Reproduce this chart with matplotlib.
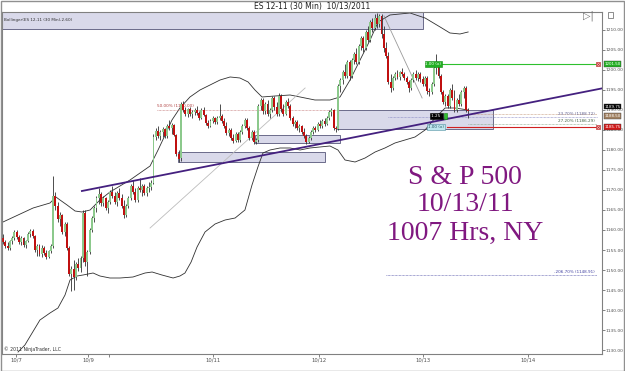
import numpy as np
import matplotlib.pyplot as plt
from matplotlib.patches import Rectangle
from matplotlib.transforms import blended_transform_factory

# 30 min OHLC bars, ES 12-11
opens = [1158, 1157, 1156, 1155.5, 1157.25, 1158, 1159.5, 1158.25, 1157, 1158,
         1156.25, 1157.25, 1159, 1159.75, 1158.5, 1155, 1156, 1154, 1155.5, 1154.25,
         1153.25, 1154.75, 1156, 1168.5, 1166, 1162.75, 1163.75, 1159.5, 1161.5, 1155.5,
         1149, 1150.25, 1148.25, 1151.5, 1150.5, 1153, 1164.25, 1152, 1154.5, 1160,
         1163, 1165.5, 1168, 1169, 1166.75, 1168, 1165.5, 1167, 1169.5, 1168.5,
         1167, 1169.25, 1168, 1166, 1163.75, 1166, 1168, 1171, 1169.5, 1167.5,
         1170.5, 1170, 1171, 1169.25, 1170.5, 1170.75, 1171.75, 1183.25, 1184.75, 1183.5,
         1184.5, 1185.25, 1183.5, 1186, 1185.5, 1186.25, 1183.75, 1179, 1178, 1191.5,
         1190, 1189, 1190.25, 1189, 1189.5, 1190, 1189.25, 1188, 1190, 1188.75,
         1186.75, 1186, 1187.25, 1188, 1187, 1188, 1188.5, 1187.25, 1186, 1184.25,
         1185, 1183, 1182.25, 1184, 1182.5, 1184.5, 1186, 1187.5, 1185.5, 1183,
         1184.5, 1182, 1182.5, 1191, 1192.5, 1189.75, 1191.5, 1189, 1190, 1193,
         1190.75, 1189, 1193.5, 1190.25, 1189, 1192, 1191, 1188, 1186.5, 1187,
         1185.5, 1186, 1184.5, 1183.5, 1182, 1183, 1184.5, 1185.5, 1185, 1186.5,
         1186, 1187.25, 1186.5, 1188, 1189.5, 1190, 1185.5, 1185.25, 1196, 1197.5,
         1199.5, 1198.5, 1202, 1198.5, 1202.5, 1204, 1202, 1206, 1208, 1205.5,
         1209.5, 1207.5, 1212, 1210.5, 1213, 1211.5, 1213.5, 1209, 1205.5, 1203.5,
         1197, 1195.5, 1198, 1199, 1198.25, 1199.5, 1199, 1198, 1197, 1195.5,
         1197.5, 1199, 1198, 1199, 1197.75, 1196.5, 1198, 1194.75, 1194.5, 1196.5,
         1200.5, 1201, 1198.5, 1194.5, 1192, 1193.5, 1191, 1195, 1193, 1190,
         1192.5, 1191.5, 1194.5, 1195.5, 1190]
highs = [1159, 1157.5, 1157, 1157.5, 1158.5, 1160, 1160, 1158.75, 1158.5, 1158.25,
         1157.5, 1159.5, 1160.25, 1160.25, 1158.75, 1156.5, 1156.5, 1156.25, 1156, 1155,
         1155, 1156.5, 1173.5, 1169.5, 1167, 1164.5, 1164, 1162, 1162, 1156,
         1151, 1152.5, 1152, 1153, 1153.5, 1165, 1165, 1155, 1160.5, 1163.5,
         1166, 1168.5, 1170.5, 1169.5, 1168.5, 1168.25, 1167.5, 1170, 1171, 1169.5,
         1169.75, 1170.5, 1169, 1167.5, 1166.5, 1168.5, 1171.5, 1172.5, 1170.5, 1171,
         1173, 1171.5, 1171.5, 1171, 1172, 1172.5, 1184, 1185.5, 1186, 1185,
         1185.75, 1185.5, 1186.5, 1187.5, 1186.75, 1186.5, 1184, 1180, 1192, 1192.25,
         1190.75, 1190.5, 1190.75, 1190, 1190.5, 1191, 1189.75, 1190.5, 1190.75, 1189,
         1187.5, 1187.75, 1188.5, 1188.25, 1188.5, 1191.5, 1189, 1188, 1187, 1185.5,
         1185.5, 1184, 1184.5, 1184.5, 1185, 1186.5, 1188, 1188, 1186, 1185,
         1185, 1183, 1191.5, 1193, 1193, 1192, 1192.5, 1190.5, 1193.5, 1193.5,
         1192, 1194.25, 1194, 1191.5, 1192.5, 1193, 1191.5, 1188.5, 1187.5, 1187.5,
         1186.5, 1186.25, 1185.5, 1184, 1183.5, 1185, 1186, 1186, 1187, 1187.5,
         1187.75, 1188, 1188.5, 1190, 1190.5, 1190.25, 1186, 1196.5, 1198, 1200,
         1201.5, 1202.5, 1202.5, 1203, 1204.5, 1205.5, 1206.5, 1208.5, 1208.5, 1210,
         1211, 1212.5, 1213, 1214, 1214.25, 1214, 1214, 1211, 1207, 1204.5,
         1199, 1198.5, 1199.5, 1200, 1199.75, 1200.5, 1199.5, 1198.5, 1197.5, 1198,
         1199.5, 1200, 1199.5, 1199.5, 1198.5, 1198.5, 1198.5, 1195.5, 1197, 1201,
         1204, 1201.5, 1199, 1195, 1194, 1194, 1195.5, 1196.5, 1195, 1193,
         1194, 1195, 1196, 1196, 1190.5]
lows = [1156.5, 1155.5, 1155, 1155, 1156.5, 1157.5, 1157.75, 1156.5, 1156.25, 1155.75,
        1155.5, 1157, 1158.25, 1158, 1154.5, 1153.5, 1153.5, 1153.25, 1153.75, 1152.75,
        1153, 1154.25, 1155.5, 1165, 1162, 1161, 1159, 1158.5, 1155, 1148.5,
        1144.75, 1145, 1147.5, 1149.75, 1149.5, 1152, 1151, 1148.5, 1154, 1159.5,
        1162, 1164.5, 1166.5, 1166, 1166, 1165, 1164.25, 1166.5, 1168, 1166.5,
        1166, 1167.5, 1165.5, 1163, 1163.25, 1165.5, 1167.5, 1169, 1167, 1167,
        1169.5, 1168.5, 1168.75, 1168.5, 1169.5, 1170, 1171.5, 1182.5, 1183, 1182.5,
        1183.25, 1183, 1183, 1185, 1184, 1183.5, 1178.5, 1177, 1177.25, 1189.5,
        1188.5, 1188.25, 1188.5, 1188, 1188.75, 1188.75, 1187.5, 1187.75, 1188.5, 1186.25,
        1185.5, 1185.75, 1186.75, 1186.5, 1186.5, 1187.5, 1186.75, 1185.5, 1183.75, 1183.5,
        1182.5, 1181.75, 1182, 1182, 1182, 1184, 1185.5, 1185, 1182.5, 1182.5,
        1181.5, 1181.5, 1182, 1190, 1189, 1189, 1188.5, 1188, 1189.5, 1190,
        1188.5, 1188.5, 1189.5, 1188.5, 1188.75, 1190.5, 1187.5, 1186, 1185.5, 1185,
        1184.5, 1184, 1183, 1181.5, 1181.75, 1182.5, 1184, 1184.5, 1184.75, 1185.5,
        1185.5, 1186, 1186.25, 1187.5, 1188.5, 1185, 1184.5, 1185, 1194.5, 1196.5,
        1198, 1198, 1197.5, 1198, 1201.5, 1201.5, 1201.5, 1205, 1204.5, 1205,
        1207, 1207, 1209.5, 1210, 1210.5, 1210.75, 1208, 1204.5, 1203, 1196.5,
        1194.5, 1195, 1197.5, 1197.75, 1197.5, 1198.5, 1197.5, 1196.5, 1194.5, 1195,
        1197, 1197.5, 1197.25, 1197, 1196, 1196, 1194, 1193.5, 1194, 1196,
        1199, 1198, 1194, 1191.5, 1191, 1190.5, 1190.5, 1192.5, 1189.5, 1189.5,
        1191, 1191, 1193, 1189.5, 1188]
closes = [1157, 1156, 1155.5, 1157.25, 1158, 1159.5, 1158.25, 1157, 1158, 1156.25,
          1157.25, 1159, 1159.75, 1158.5, 1155, 1156, 1154, 1155.5, 1154.25, 1153.25,
          1154.75, 1156, 1168.5, 1166, 1162.75, 1163.75, 1159.5, 1161.5, 1155.5, 1149,
          1150.25, 1148.25, 1151.5, 1150.5, 1153, 1164.25, 1152, 1154.5, 1160, 1163,
          1165.5, 1168, 1169, 1166.75, 1168, 1165.5, 1167, 1169.5, 1168.5, 1167,
          1169.25, 1168, 1166, 1163.75, 1166, 1168, 1171, 1169.5, 1167.5, 1170.5,
          1170, 1171, 1169.25, 1170.5, 1170.75, 1171.75, 1183.25, 1184.75, 1183.5, 1184.5,
          1185.25, 1183.5, 1186, 1185.5, 1186.25, 1183.75, 1179, 1177.75, 1191.5, 1190,
          1189, 1190.25, 1189, 1189.5, 1190, 1189.25, 1188, 1190, 1188.75, 1186.75,
          1186, 1187.25, 1188, 1187, 1188, 1188.5, 1187.25, 1186, 1184.25, 1185,
          1183, 1182.25, 1184, 1182.5, 1184.5, 1186, 1187.5, 1185.5, 1183, 1184.5,
          1182, 1182.5, 1191, 1192.5, 1189.75, 1191.5, 1189, 1190, 1193, 1190.75,
          1189, 1193.5, 1190.25, 1189, 1192, 1191, 1188, 1186.5, 1187, 1185.5,
          1186, 1184.5, 1183.5, 1182, 1183, 1184.5, 1185.5, 1185, 1186.5, 1186,
          1187.25, 1186.5, 1188, 1189.5, 1190, 1185.5, 1185.25, 1196, 1197.5, 1199.5,
          1198.5, 1202, 1198.5, 1202.5, 1204, 1202, 1206, 1208, 1205.5, 1209.5,
          1207.5, 1212, 1210.5, 1213, 1211.5, 1213.5, 1209, 1205.5, 1203.5, 1197,
          1195.5, 1198, 1199, 1198.25, 1199.5, 1199, 1198, 1197, 1195.5, 1197.5,
          1199, 1198, 1199, 1197.75, 1196.5, 1198, 1194.75, 1194.5, 1196.5, 1200.5,
          1201, 1198.5, 1194.5, 1192, 1193.5, 1191, 1195, 1193, 1190, 1192.5,
          1191.5, 1194.5, 1195.5, 1190, 1189.75]

# Bollinger bands (bar index, price)
upper_x = [0, 13.2, 20.6, 23.2, 25, 28.1, 31.6, 34.6, 38.2, 42.5, 46.9, 51.3, 55.7,
           60.1, 64.5, 68, 71.1, 74.1, 77.6, 82, 86.4, 90.8, 95.2, 99.6, 103.9, 107.5,
           110.5, 113.6, 119.3, 125.9, 130.3, 136.8, 143.4, 147.8, 152.2, 156.6, 161,
           164.5, 169.7, 178.5, 185.1, 191.7, 196, 200.4, 204]
upper_y = [1162, 1165.5, 1166.75, 1168.25, 1167.5, 1166.25, 1164.75, 1164.5, 1165,
           1167.5, 1169.5, 1171, 1172.5, 1174.25, 1176, 1180, 1183.75, 1187.5, 1190.5,
           1193.25, 1195, 1196.25, 1197.5, 1198.25, 1198, 1197, 1195, 1193.25, 1193.5,
           1193.75, 1193.25, 1192.5, 1192.5, 1193.25, 1197.5, 1202.5, 1207.5, 1212,
           1213.75, 1214.25, 1213, 1210.75, 1209.25, 1209, 1209.5]
lower_x = [6.6, 9.6, 16.2, 20.6, 24.1, 27.2, 29.4, 32.5, 35.1, 39.5, 42.5, 46.9, 51.3,
           57, 62.3, 65.4, 69.7, 74.6, 77.6, 79.8, 82.5, 85.1, 88.6, 93, 97.4, 101.8,
           106.1, 109.2, 111.8, 114, 117.1, 121.5, 125.9, 130.3, 134.6, 139, 143.4,
           146.9, 150, 154.4, 158.8, 163.2, 167.5, 171.9, 176.3, 180.7, 185.1, 189.5,
           193.9, 198.2, 204]
lower_y = [1129.5, 1131.25, 1137.5, 1139.25, 1140.5, 1143.75, 1147.5, 1148.5, 1148.75,
           1149.25, 1148.5, 1148, 1148, 1148.25, 1149.25, 1149.5, 1148.75, 1148, 1148.5,
           1149.25, 1152, 1155.75, 1159.5, 1161.5, 1162.5, 1163, 1165, 1171.25, 1175.75,
           1179.25, 1180, 1180.5, 1180.5, 1180, 1180.5, 1180.75, 1181, 1180, 1177.5,
           1177, 1178, 1179.5, 1180.5, 1181.75, 1182.5, 1183.25, 1185, 1188, 1190.5,
           1190.5, 1190]

# zones drawn on the chart: (start bar, end bar, low, high)
zones = [(-0.5, 184.2, 1210.25, 1214.5),
         (76.8, 141.2, 1177, 1179.5),
         (110.5, 147.8, 1181.75, 1183.75),
         (146.5, 214.9, 1185.25, 1190)]

date_pos = [5.7, 37.3, 46.5, 92, 138.6, 184.2, 230.3]
date_labels = ['10/7', '10/9', '', '10/11', '10/12', '10/13', '10/14']
price_ticks = np.arange(1130, 1211, 5)

fig = plt.figure(figsize=(6.25, 3.71), dpi=100)
ax = fig.add_axes([0.0032, 0.0458, 0.96, 0.9219])
ax.set_xlim(-0.44, 262.7)
ax.set_ylim(1129, 1214.5)

for sp in ax.spines.values():
    sp.set_color('#808080')
    sp.set_linewidth(0.8)

ax.yaxis.tick_right()
ax.set_yticks(price_ticks)
ax.set_yticklabels(['%.2f' % v for v in price_ticks], fontsize=3.2, color='#303030')
ax.set_xticks(date_pos)
ax.set_xticklabels(date_labels, fontsize=3.8, color='#303030')
ax.tick_params(axis='both', length=2, width=0.5, pad=0.8, colors='#505050')

# zones
for x0, x1, y0, y1 in zones:
    ax.add_patch(Rectangle((x0, y0), x1 - x0, y1 - y0, fc='#d9d9ea',
                           ec='#6a6a8a', lw=0.7, zorder=1))

# bands
ax.plot(upper_x, upper_y, color='#303030', lw=0.6, zorder=2)
ax.plot(lower_x, lower_y, color='#303030', lw=0.6, zorder=2)

# thin fib anchor lines
ax.plot([64.5, 132.5], [1160.5, 1195.5], color='#bcbcbc', lw=0.6, zorder=2)
ax.plot([167.1, 183.8], [1213.5, 1193], color='#9a9a9a', lw=0.6, zorder=2)

# candles
idx = np.arange(len(closes))
o, h, l, c = map(np.array, (opens, highs, lows, closes))
up = c >= o
ax.vlines(idx, l, h, color='#303030', lw=0.6, zorder=3)
ax.bar(idx[up], np.maximum(c - o, 0.2)[up], bottom=o[up], width=0.85,
       color='#8cc98c', lw=0, zorder=4)
ax.bar(idx[~up], (o - c)[~up], bottom=c[~up], width=0.85,
       color='#c01010', lw=0, zorder=4)

# trend line
ax.plot([34.6, 262.7], [1169.75, 1195.4], color='#44207f', lw=1.3, zorder=5)

# levels
ax.plot([67.5, 147.8], [1190, 1190], color='#c07070', lw=0.5, ls=(0, (1, 1)), zorder=2)
ax.text(67.5, 1190.4, '50.00% (1190.00)', fontsize=3, color='#b04040', va='bottom')

ax.plot([191.7, 260.5], [1201.5, 1201.5], color='#2ec02e', lw=0.8, zorder=5)
ax.plot([194.7, 260.5], [1185.75, 1185.75], color='#d02020', lw=0.8, zorder=5)
ax.plot([168.9, 260.5], [1188.25, 1188.25], color='#8080c0', lw=0.5, ls=(0, (1, 1)), zorder=2)
ax.plot([204, 260.5], [1189, 1189], color='#c09070', lw=0.5, ls=(0, (1, 1)), zorder=2)
ax.plot([204, 260.5], [1186.5, 1186.5], color='#80a080', lw=0.5, ls=(0, (1, 1)), zorder=2)
ax.text(259.5, 1188.5, '23.70% (1188.72)', fontsize=3, color='#606090', ha='right', va='bottom')
ax.text(259.5, 1186.7, '27.20% (1186.29)', fontsize=3, color='#406040', ha='right', va='bottom')
ax.plot([168, 260.5], [1148.75, 1148.75], color='#5050a8', lw=0.5, ls=(0, (1, 1)), zorder=2)
ax.text(259.5, 1149.1, '-206.70% (1148.91)', fontsize=3, color='#4040a0', ha='right', va='bottom')

# order tags on the chart
ax.text(188.8, 1201.5, '1.00 (x)', fontsize=3, color='white', ha='center', va='center', zorder=7,
        bbox=dict(boxstyle='square,pad=0.2', fc='#22b022', ec='#118811', lw=0.4))
ax.text(190, 1188.5, ' 1.25 ', fontsize=3, color='white', ha='center', va='center', zorder=7,
        bbox=dict(boxstyle='square,pad=0.2', fc='black', ec='black', lw=0.4))
ax.text(194.2, 1188.5, ' ', fontsize=3, ha='center', va='center', zorder=7,
        bbox=dict(boxstyle='square,pad=0.2', fc='#30c030', ec='#108010', lw=0.4))
ax.text(190, 1185.75, '1.00 (x)', fontsize=3, color='#205060', ha='center', va='center', zorder=7,
        bbox=dict(boxstyle='square,pad=0.2', fc='#bfe6ee', ec='#5090a0', lw=0.4))
ax.scatter([260.8, 260.8], [1201.5, 1185.75], marker='s', s=9, c='#f4c4c4',
           edgecolors='#c03030', linewidths=0.5, zorder=7)
ax.scatter([260.8, 260.8], [1201.5, 1185.75], marker='x', s=4, c='#c03030',
           linewidths=0.5, zorder=8)

# price tags on the axis
trans = blended_transform_factory(ax.transAxes, ax.transData)
tags = [(1201.5, '1201.50', '#22b022', 'white'),
        (1190.8, '1189.75', 'black', 'white'),
        (1188.5, '1188.50', '#a08060', 'white'),
        (1185.75, '1185.75', '#d01818', 'white')]
for yv, txt, fc, tc in tags:
    ax.text(1.004, yv, txt, transform=trans, fontsize=2.9, color=tc, ha='left', va='center',
            zorder=9, clip_on=False,
            bbox=dict(boxstyle='square,pad=0.15', fc=fc, ec='#404040', lw=0.3))

# captions
for yv, txt in [(1173, 'S & P 500'), (1166.25, '10/13/11'), (1159.25, '1007 Hrs, NY')]:
    ax.text(202.6, yv, txt, ha='center', va='center', fontsize=20,
            family='Liberation Serif', color='#801880')

ax.text(0.004, 0.976, 'Bollinger(ES 12-11 (30 Min),2.60)', transform=ax.transAxes,
        fontsize=3, color='#303030', va='center', zorder=6)
ax.text(0.003, 0.006, '\u00a9 2011 NinjaTrader, LLC', transform=ax.transAxes,
        fontsize=3.3, color='#303030', va='bottom')
ax.text(0.977, 0.988, '\u25b7|', transform=ax.transAxes, fontsize=7, color='#707070',
        ha='center', va='center')

fig.text(0.5, 1 - 6.5 / 371, 'ES 12-11 (30 Min)  10/13/2011', ha='center', va='center',
         fontsize=5.5, color='#202020')
fig.patches.append(Rectangle((608 / 625, 1 - 18 / 371), 5 / 625, 6 / 371,
                             transform=fig.transFigure, fill=False, ec='#606060', lw=0.5))
fig.patches.append(Rectangle((0.001, 0.001), 0.997, 0.996, transform=fig.transFigure,
                             fill=False, ec='#909090', lw=1))

fig.savefig('out.png', dpi=100)
